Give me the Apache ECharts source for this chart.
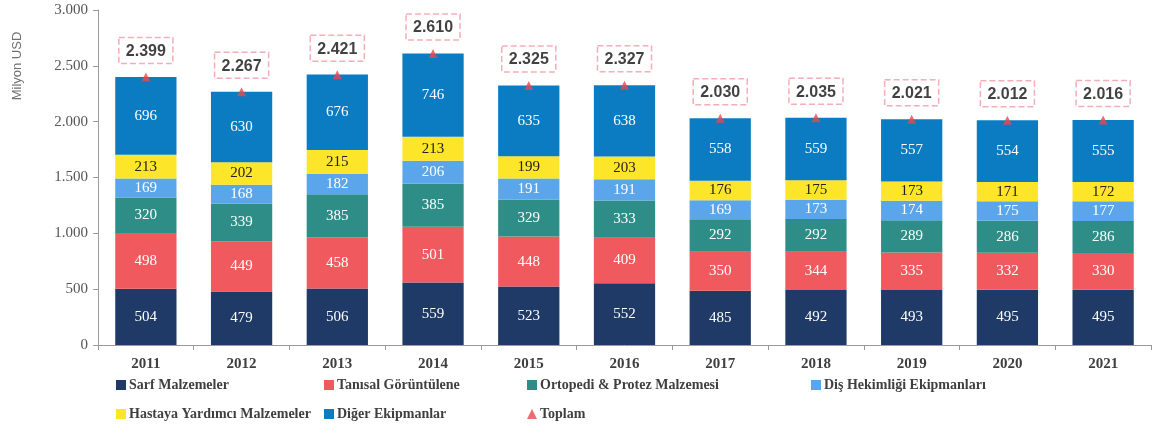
<!DOCTYPE html>
<html><head><meta charset="utf-8">
<script src="https://cdn.jsdelivr.net/npm/echarts@6/dist/echarts.min.js"></script>
<style>html,body{margin:0;padding:0;background:#fff}#c{width:1161px;height:435px}</style>
</head><body><div id="c"></div>
<script>
const categories = ['2011','2012','2013','2014','2015','2016','2017','2018','2019','2020','2021'];
const sarf      = [504,479,506,559,523,552,485,492,493,495,495];
const tanisal   = [498,449,458,501,448,409,350,344,335,332,330];
const ortopedi  = [320,339,385,385,329,333,292,292,289,286,286];
const dis       = [169,168,182,206,191,191,169,173,174,175,177];
const hastaya   = [213,202,215,213,199,203,176,175,173,171,172];
const diger     = [696,630,676,746,635,638,558,559,557,554,555];
const toplam    = [2399,2267,2421,2610,2325,2327,2030,2035,2021,2012,2016];
const yTicks    = [0,500,1000,1500,2000,2500,3000];
const yName     = 'Milyon USD';

function fmt(v){ return String(v).replace(/\B(?=(\d{3})+(?!\d))/g,'.'); }

const serif = 'Liberation Serif';
const stackDefs = [
  {name:'Sarf Malzemeler', data:sarf, color:'#1f3a66', lc:'#ffffff'},
  {name:'Tanısal Görüntülene', data:tanisal, color:'#f05a5e', lc:'#ffffff'},
  {name:'Ortopedi & Protez Malzemesi', data:ortopedi, color:'#2e8e87', lc:'#ffffff'},
  {name:'Diş Hekimliği Ekipmanları', data:dis, color:'#5ba6ea', lc:'#ffffff'},
  {name:'Hastaya Yardımcı Malzemeler', data:hastaya, color:'#fde52a', lc:'#222222'},
  {name:'Diğer Ekipmanlar', data:diger, color:'#0b7cc2', lc:'#ffffff'}
];

const series = stackDefs.map(d => ({
  name:d.name, type:'bar', stack:'t', data:d.data, barWidth:'64%',
  itemStyle:{color:d.color},
  label:{show:true, position:'inside', color:d.lc, fontFamily:serif, fontSize:15}
}));
series.push({
  name:'Toplam', type:'scatter', data:toplam, symbol:'triangle', symbolSize:9,
  itemStyle:{color:'#e8474f'}, z:10,
  label:{show:true, position:'top', distance:9, formatter:p=>fmt(p.value),
    fontFamily:'Liberation Sans', fontWeight:'bold', fontSize:16, color:'#111111',
    borderColor:'#f19aa3', borderType:'dashed', borderWidth:1.5, padding:[6,7,4,7]}
});

const legendPos = [
  ['Sarf Malzemeler',116,378],['Tanısal Görüntülene',324,378],['Ortopedi & Protez Malzemesi',527,378],['Diş Hekimliği Ekipmanları',811,378],
  ['Hastaya Yardımcı Malzemeler',116,407],['Diğer Ekipmanlar',324,407],['Toplam',527,407]
];
const legends = legendPos.map(([n,l,t]) => ({
  data:[{name:n, icon: n==='Toplam' ? 'triangle' : 'rect'}], left:l, top:t, itemWidth:10, itemHeight:10, itemGap:0,
  padding:0, selectedMode:false,
  textStyle:{fontFamily:serif, fontWeight:'bold', fontSize:14, color:'#3f3f3f', padding:[0,0,0,-2]}
}));

const chart = echarts.init(document.getElementById('c'));
chart.setOption({
  animation:false,
  legend:legends,
  graphic:[{type:'text', x:17, y:66, rotation:Math.PI/2,
    style:{text:yName, fontFamily:'Liberation Sans', fontSize:13, fill:'#707070', align:'center', verticalAlign:'middle'}}],
  grid:{left:98, right:10, top:10, bottom:90},
  xAxis:{type:'category', data:categories,
    axisLine:{lineStyle:{color:'#9a9a9a'}}, axisTick:{show:true, lineStyle:{color:'#9a9a9a'}},
    axisLabel:{fontFamily:serif, fontWeight:'bold', fontSize:15, color:'#3f3f3f', margin:12}},
  yAxis:{type:'value', min:yTicks[0], max:yTicks[yTicks.length-1], interval:500,
    axisLine:{show:true, lineStyle:{color:'#9a9a9a'}}, axisTick:{show:true, lineStyle:{color:'#9a9a9a'}},
    splitLine:{show:false},
    axisLabel:{fontFamily:serif, fontSize:15, color:'#555555', formatter:v=>fmt(v), margin:10}},
  series:series
});
</script></body></html>
